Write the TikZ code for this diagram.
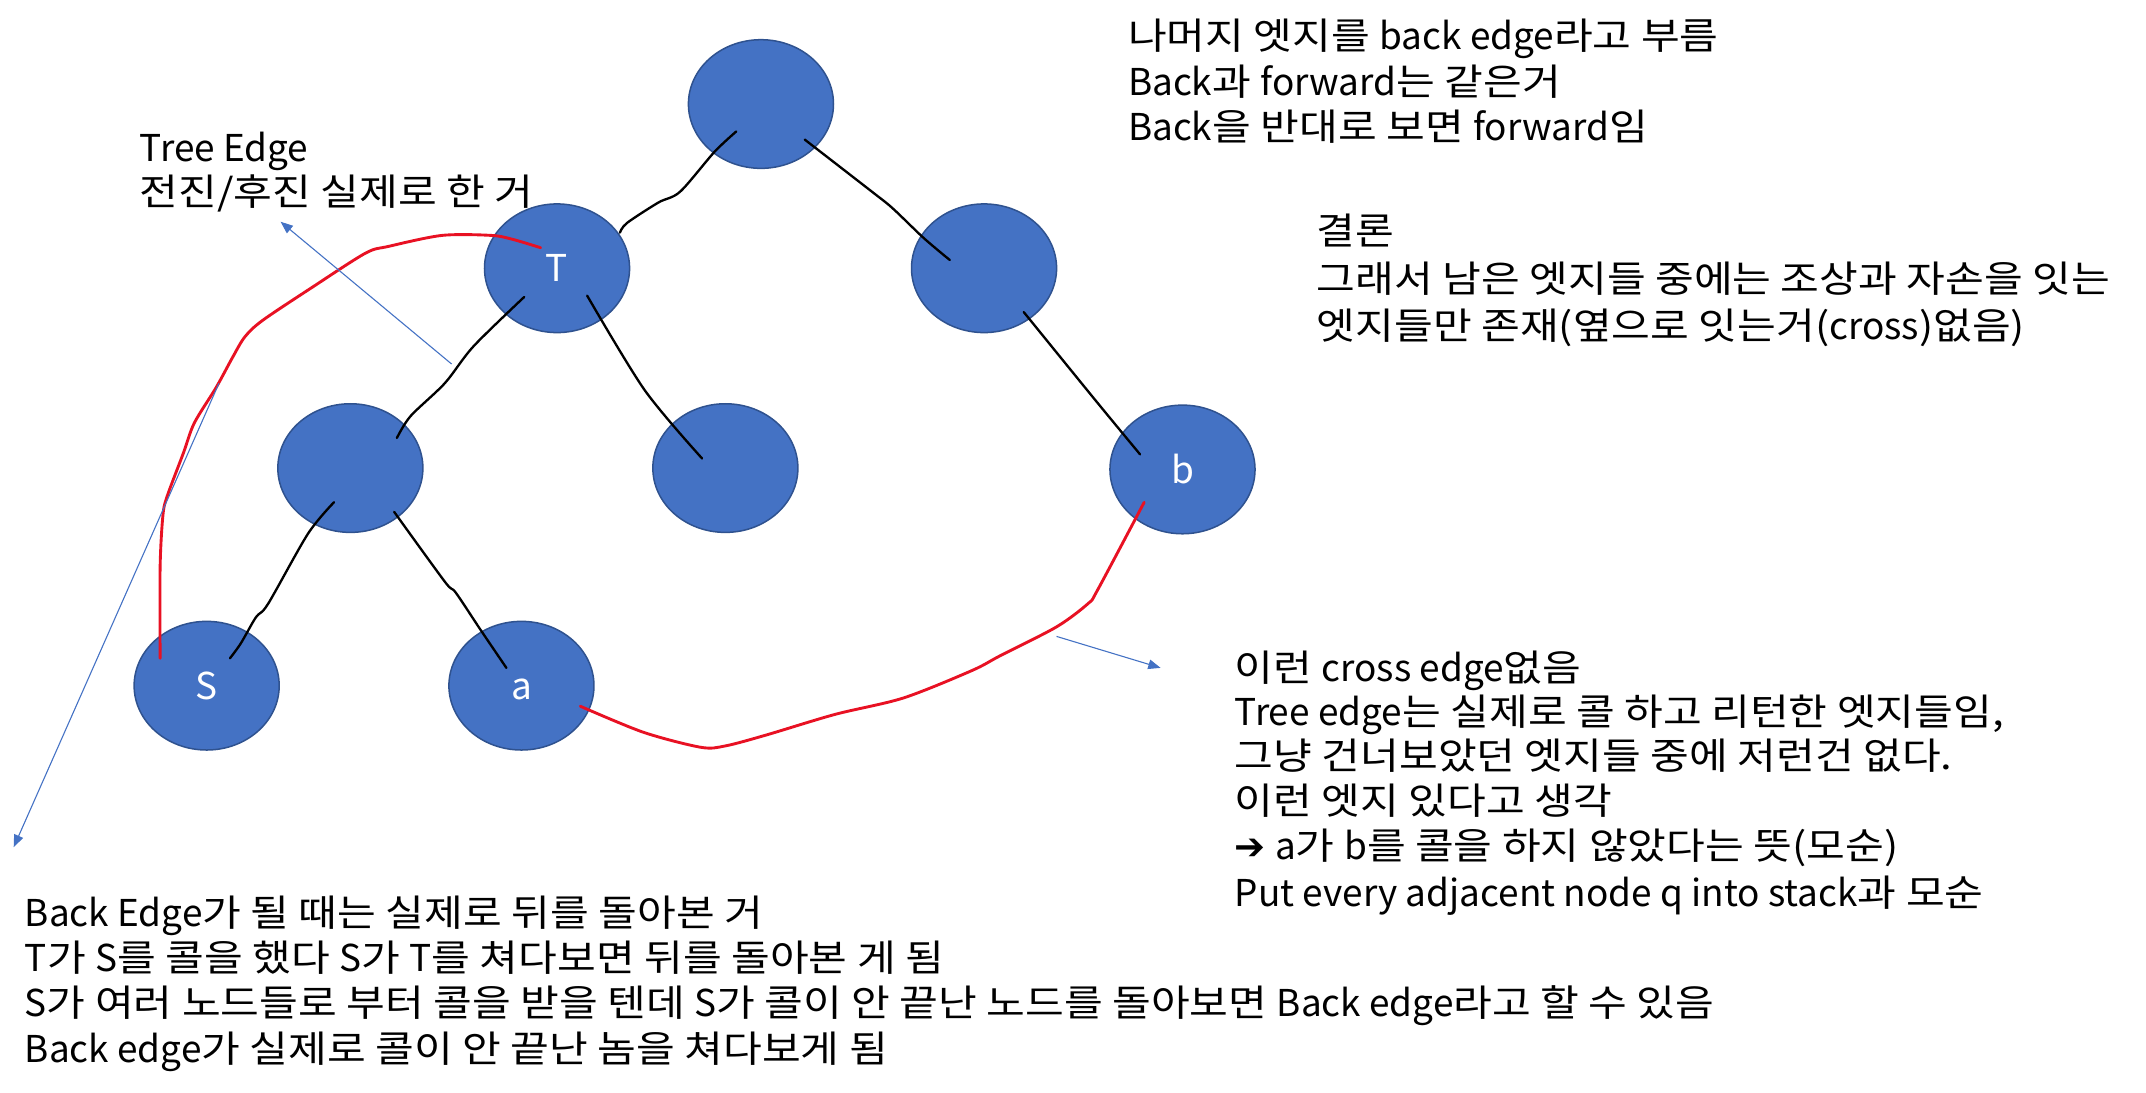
\documentclass[tikz,border=0pt]{standalone}
\usepackage{fontspec}
\setmainfont{Noto Sans CJK KR}[FakeStretch=1.14]
\newfontfamily\latf{Noto Sans CJK KR}
\newfontfamily\symfont{DejaVu Sans}
\newcommand\lat[1]{{\latf #1}}
\usetikzlibrary{shapes.geometric,arrows.meta}
\definecolor{nodeblue}{HTML}{4472C4}
\definecolor{nodeedge}{HTML}{2F528F}
\definecolor{backred}{RGB}{232,17,35}
\begin{document}
\begin{tikzpicture}[x=1pt,y=-1pt,
  vert/.style={ellipse, fill=nodeblue, draw=nodeedge, line width=1.1pt,
    minimum width=106pt, minimum height=94pt, inner sep=0pt, text=white,
    text height=20pt, text depth=0pt, font=\fontsize{27}{33}\selectfont\latf},
  treeline/.style={black, line width=1.7pt, line cap=round, line join=round},
  redline/.style={backred, line width=2.1pt, line cap=round, line join=round},
  pointer/.style={nodeblue, line width=0.8pt, -{Triangle[length=9pt,width=7pt]}},
  txt/.style={anchor=base west, inner sep=0pt, font=\fontsize{27}{33}\selectfont}]
\useasboundingbox (0,0) rectangle (1568,798);

% vertices
\node[vert] (R) at (556,76) {};
\node[vert] (T) at (407,196) {T};
\node[vert] (C) at (719,196) {};
\node[vert] (L) at (256,342) {};
\node[vert] (M) at (530,342) {};
\node[vert] (b) at (864,343) {b};
\node[vert] (S) at (151,501) {S};
\node[vert] (a) at (381,501) {a};

% hand-drawn tree edges
\draw[treeline] plot[smooth, tension=0.5] coordinates {(538,96) (522,111) (497,140) (481,148) (458,163) (453,170)};
\draw[treeline] plot[smooth, tension=0.5] coordinates {(588,102) (637,140) (652,152) (675,174) (694,190)};
\draw[treeline] plot[smooth, tension=0.5] coordinates {(383,217) (346,253) (325,280) (300,304) (290,320)};
\draw[treeline] plot[smooth, tension=0.5] coordinates {(429,216) (471,285) (513,335)};
\draw[treeline] plot[smooth, tension=0.5] coordinates {(748,228) (800,292) (833,332)};
\draw[treeline] plot[smooth, tension=0.5] coordinates {(244,367) (225,390) (196,441) (187,451) (176,470) (168,481)};
\draw[treeline] plot[smooth, tension=0.5] coordinates {(288,374) (325,425) (333,433) (351,460) (370,488)};

% red strokes
\draw[redline] plot[smooth, tension=0.5] coordinates {(117,481) (117,414) (119,377) (122,363) (134,331) (142,309) (158,283) (170,261) (179,246) (192,234) (228,210) (267,185) (284,180) (323,172) (359,172) (375,175) (395,181)};
\draw[redline] plot[smooth, tension=0.5] coordinates {(424,516) (470,535) (512,546) (530,545) (560,537) (610,522) (660,510) (710,490) (731,479) (772,458) (795,441) (802,431) (836,367)};

% pointer arrows
\coordinate (p1s) at (330,266); \coordinate (p1e) at (205,162);
\coordinate (p2s) at (160,280); \coordinate (p2e) at (10,619);
\coordinate (p3s) at (772,465); \coordinate (p3e) at (848,488);
\draw[pointer] (p1s) -- (p1e);
\draw[pointer] (p2s) -- (p2e);
\draw[pointer] (p3s) -- (p3e);

% texts
\node[txt] (tr1) at (824,36) {나머지 엣지를 \lat{back edge}라고 부름};
\node[txt] (tr2) at (824,70) {\lat{Back}과 \lat{forward}는 같은거};
\node[txt] (tr3) at (824,103) {\lat{Back}을 반대로 보면 \lat{forward}임};

\node[txt] (te1) at (102,118) {\lat{Tree Edge}};
\node[txt] (te2) at (102,150) {전진/후진 실제로 한 거};

\node[txt] (k1) at (962,179) {결론};
\node[txt] (k2) at (962,214) {그래서 남은 엣지들 중에는 조상과 자손을 잇는};
\node[txt] (k3) at (962,248) {엣지들만 존재(옆으로 잇는거(\lat{cross})없음)};

\node[txt] (c1) at (902,498) {이런 \lat{cross edge}없음};
\node[txt] (c2) at (902,530) {\lat{Tree edge}는 실제로 콜 하고 리턴한 엣지들임,};
\node[txt] (c3) at (902,562) {그냥 건너보았던 엣지들 중에 저런건 없다.};
\node[txt] (c4) at (902,595) {이런 엣지 있다고 생각};
\node[txt] (c5) at (902,628) {{\symfont ➔} \lat{a}가 \lat{b}를 콜을 하지 않았다는 뜻(모순)};
\node[txt] (c6) at (902,662) {\lat{Put every adjacent node q into stack}과 모순};

\node[txt] (d1) at (18,677) {\lat{Back Edge}가 될 때는 실제로 뒤를 돌아본 거};
\node[txt] (d2) at (18,710) {\lat{T}가 \lat{S}를 콜을 했다 \lat{S}가 \lat{T}를 쳐다보면 뒤를 돌아본 게 됨};
\node[txt] (d3) at (18,743) {\lat{S}가 여러 노드들로 부터 콜을 받을 텐데 \lat{S}가 콜이 안 끝난 노드를 돌아보면 \lat{Back edge}라고 할 수 있음};
\node[txt] (d4) at (18,776) {\lat{Back edge}가 실제로 콜이 안 끝난 놈을 쳐다보게 됨};
\end{tikzpicture}
\end{document}
